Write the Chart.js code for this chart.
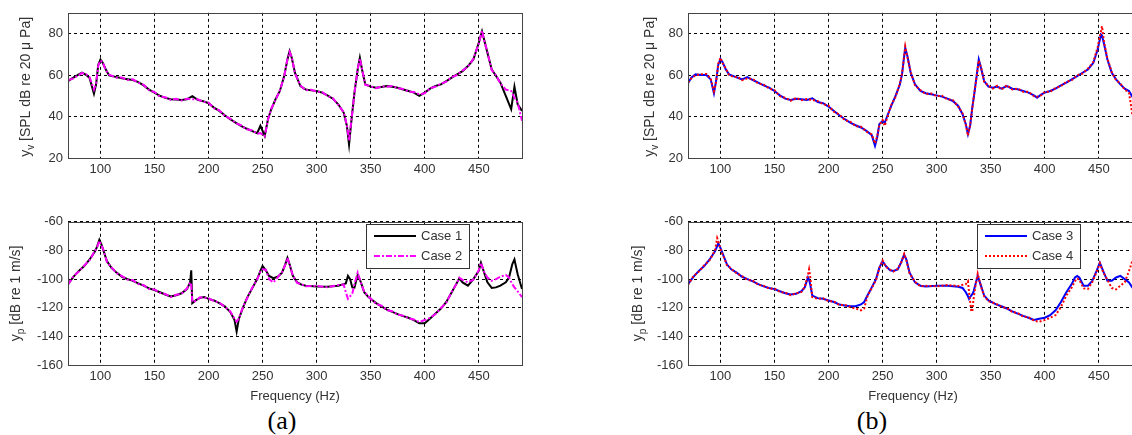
<!DOCTYPE html>
<html>
<head>
<meta charset="utf-8">
<script src="https://cdn.jsdelivr.net/npm/chart.js@4.4.1/dist/chart.umd.min.js"></script>
<style>
  html, body { margin: 0; padding: 0; background: #fff; overflow: hidden; }
  #page { position: relative; width: 1132px; height: 435px; overflow: hidden; }
  .panel { position: absolute; width: 530px; }
  .xlab { position: absolute; font: 13px 'Liberation Sans', Arial, sans-serif; color: #333; transform: translate(-50%, -50%); white-space: nowrap; }
  .cap { position: absolute; font: 26px 'Liberation Serif', 'Times New Roman', serif; color: #000; transform: translate(-50%, -50%); white-space: nowrap; }
</style>
</head>
<body>
<div id="page">
  <div class="panel" style="left:0;top:0;height:185px"><canvas id="aTop"></canvas></div>
  <div class="panel" style="left:0;top:209px;height:183px"><canvas id="aBot"></canvas></div>
  <div class="panel" style="left:620px;top:0;height:185px"><canvas id="bTop"></canvas></div>
  <div class="panel" style="left:620px;top:209px;height:183px"><canvas id="bBot"></canvas></div>
  <div class="xlab" style="left:295px;top:395px">Frequency (Hz)</div>
  <div class="xlab" style="left:913px;top:395px">Frequency (Hz)</div>
  <div class="cap" style="left:282px;top:421px">(a)</div>
  <div class="cap" style="left:872px;top:421px">(b)</div>
</div>
<script>
// ── data ─────────────────────────────────────────────────────────────────────
const xTicks    = [100, 150, 200, 250, 300, 350, 400, 450];
const yTicksTop = [20, 40, 60, 80];
const yTicksBot = [-160, -140, -120, -100, -80, -60];

// (a) top: y_v, Case 1 / Case 2
const aTopFreq = [
  70, 75, 80, 83, 87, 90, 94, 96, 98, 100,
  102, 105, 108, 115, 120, 125, 130, 135, 140, 145,
  150, 155, 160, 165, 170, 175, 180, 185, 190, 195,
  200, 205, 210, 215, 220, 225, 230, 235, 240, 245,
  248, 252, 255, 258, 262, 266, 270, 273, 275, 277,
  280, 285, 290, 295, 300, 305, 310, 315, 320, 325,
  328, 330, 332, 335, 338, 340, 342, 345, 350, 355,
  360, 365, 370, 375, 380, 385, 390, 395, 400, 405,
  410, 415, 420, 425, 430, 435, 440, 445, 450, 453,
  455, 458, 462, 466, 470, 475, 480, 483, 486, 490];
const case1Top = [
  57.1, 58.7, 60.3, 61.2, 60.0, 58.5, 51.0, 55.5, 65.0, 67.5,
  66.0, 62.7, 59.8, 59.0, 58.4, 58.0, 57.6, 56.6, 55.0, 53.0,
  51.5, 50.0, 49.0, 48.3, 48.2, 48.0, 48.3, 49.8, 48.0, 47.4,
  46.4, 44.3, 42.7, 40.6, 38.7, 37.1, 35.5, 34.2, 33.1, 32.0,
  35.5, 30.7, 38.7, 43.5, 48.3, 52.3, 59.5, 67.5, 71.5, 68.3,
  61.0, 54.7, 53.0, 52.6, 52.3, 51.5, 50.2, 48.6, 45.9, 41.9,
  35.5, 26.5, 37.1, 51.5, 62.7, 68.3, 62.7, 55.5, 54.4, 53.9,
  54.2, 54.7, 54.4, 53.9, 53.0, 52.3, 51.5, 50.0, 51.5, 53.4,
  54.7, 55.5, 57.1, 58.7, 60.3, 61.9, 64.3, 67.5, 75.5, 81.1,
  77.0, 70.7, 62.7, 59.5, 56.3, 50.0, 43.5, 54.4, 45.9, 42.7];
const case2Top = [
  57.5, 58.4, 60.0, 61.0, 60.3, 58.9, 53.0, 56.0, 64.5, 67.0,
  66.3, 62.3, 60.2, 58.7, 58.8, 57.6, 57.9, 56.3, 55.3, 52.7,
  51.8, 49.6, 49.3, 48.0, 48.5, 47.7, 48.6, 48.3, 48.3, 47.1,
  46.7, 44.0, 43.0, 40.3, 39.0, 36.8, 35.8, 33.9, 33.4, 31.7,
  32.0, 30.5, 38.4, 43.8, 48.0, 52.6, 59.2, 67.8, 71.2, 68.6,
  60.7, 55.0, 52.7, 52.9, 52.0, 51.8, 49.9, 48.9, 45.6, 42.2,
  35.8, 28.3, 37.4, 51.2, 63.0, 68.0, 63.0, 55.2, 54.7, 53.6,
  54.5, 54.4, 54.7, 53.6, 53.3, 52.0, 51.8, 50.7, 51.2, 53.7,
  54.4, 55.8, 56.8, 59.0, 60.0, 62.2, 64.0, 67.8, 75.2, 81.4,
  76.7, 71.0, 62.4, 59.8, 56.0, 53.0, 52.3, 49.0, 46.7, 38.0];

// (a) bottom: y_p, Case 1 / Case 2
const aBotFreq = [
  70, 75, 80, 85, 90, 95, 97, 99, 101, 103,
  106, 110, 115, 120, 125, 130, 135, 140, 145, 150,
  155, 160, 165, 170, 175, 180, 183, 184, 185, 188,
  192, 196, 200, 205, 210, 215, 220, 224, 226, 228,
  232, 236, 240, 245, 248, 250, 253, 256, 260, 264,
  268, 271, 273, 275, 278, 282, 286, 290, 300, 310,
  320, 325, 327, 329, 331, 333, 335, 338, 341, 344,
  348, 355, 360, 365, 370, 375, 380, 385, 390, 395,
  400, 405, 410, 415, 420, 425, 430, 432, 435, 440,
  445, 450, 452, 455, 458, 462, 466, 470, 475, 478,
  481, 483, 486, 490];
const case1Bot = [
  -103.5, -98.4, -94.3, -90.9, -86.3, -80.6, -77.2, -72.6, -76.0, -80.6,
  -87.5, -92.0, -95.5, -98.4, -100.0, -101.2, -103.0, -104.6, -106.5, -107.6,
  -109.2, -110.8, -112.2, -111.3, -109.9, -107.0, -102.3, -93.9, -116.8, -114.9,
  -113.1, -112.6, -113.8, -114.9, -116.8, -119.0, -122.9, -128.5, -136.7, -128.0,
  -119.5, -112.6, -107.0, -100.0, -94.3, -90.9, -93.9, -97.8, -99.4, -98.4,
  -95.5, -89.7, -85.2, -89.7, -97.8, -102.3, -103.9, -104.6, -105.1, -105.3,
  -104.6, -103.5, -103.0, -97.8, -100.0, -105.8, -106.0, -97.0, -102.3, -109.2,
  -112.6, -116.8, -119.0, -121.3, -122.9, -124.5, -125.9, -127.0, -128.6, -130.9,
  -130.9, -127.5, -124.0, -120.6, -116.0, -109.2, -102.3, -99.4, -102.3, -104.6,
  -100.0, -94.3, -88.6, -95.5, -102.3, -106.2, -105.8, -104.6, -102.3, -98.9,
  -89.7, -86.3, -96.6, -106.9];
const case2Bot = [
  -104.0, -98.0, -94.8, -90.5, -86.8, -80.2, -77.6, -73.3, -76.5, -80.2,
  -88.0, -91.6, -95.9, -98.0, -100.4, -100.8, -103.4, -104.2, -106.9, -107.2,
  -109.6, -110.4, -112.6, -111.0, -110.3, -106.6, -102.3, -104.0, -116.0, -115.3,
  -112.7, -113.0, -113.4, -115.3, -116.4, -119.4, -122.5, -127.5, -129.8, -127.5,
  -119.1, -113.0, -106.6, -100.4, -94.7, -93.2, -93.5, -100.0, -102.3, -98.8,
  -95.1, -90.1, -85.2, -90.1, -97.4, -102.7, -103.5, -105.0, -104.7, -105.7,
  -104.2, -103.9, -109.2, -113.8, -112.0, -110.3, -103.5, -95.5, -102.7, -108.8,
  -112.2, -117.2, -118.6, -121.7, -122.5, -124.9, -125.5, -127.4, -128.2, -130.0,
  -128.6, -127.1, -124.4, -120.2, -116.4, -108.8, -102.7, -99.0, -100.5, -102.3,
  -100.4, -93.9, -88.6, -95.1, -98.9, -101.2, -100.0, -98.4, -97.1, -98.9,
  -103.5, -105.8, -108.5, -112.6];

// (b) top: y_v, Case 3 / Case 4
const bTopFreq = [
  70, 73, 77, 82, 87, 91, 94, 96, 98, 100,
  102, 105, 108, 112, 116, 120, 125, 130, 135, 140,
  145, 150, 155, 160, 165, 170, 175, 180, 185, 190,
  195, 200, 205, 210, 215, 220, 225, 230, 235, 240,
  243, 245, 247, 250, 252, 255, 258, 262, 266, 268,
  270, 271, 273, 276, 280, 285, 290, 295, 300, 305,
  310, 315, 320, 324, 327, 329, 331, 333, 335, 337,
  339, 341, 344, 348, 352, 356, 360, 365, 370, 375,
  380, 385, 390, 393, 397, 400, 405, 410, 415, 420,
  425, 430, 435, 440, 445, 449, 452, 453, 455, 458,
  462, 466, 470, 474, 478, 481, 483];
const case3Top = [
  56.0, 58.7, 60.3, 60.0, 60.0, 57.9, 51.2, 57.1, 65.0, 67.8,
  66.2, 62.7, 60.3, 59.5, 58.7, 57.9, 59.0, 57.6, 56.3, 55.0,
  53.9, 52.3, 50.2, 48.6, 48.0, 48.6, 48.3, 48.0, 48.8, 47.0,
  46.4, 44.8, 42.7, 40.6, 38.7, 37.1, 35.8, 34.7, 33.1, 31.0,
  25.9, 29.9, 36.3, 37.9, 37.0, 41.1, 45.1, 49.9, 55.5, 60.3,
  69.1, 73.1, 69.1, 61.1, 55.5, 52.3, 51.2, 50.7, 50.2, 49.6,
  48.6, 47.5, 45.1, 41.1, 36.3, 31.5, 35.5, 44.3, 51.5, 59.5,
  67.5, 63.5, 57.1, 54.4, 53.9, 54.4, 53.4, 54.7, 53.4, 53.1,
  52.3, 51.5, 50.2, 49.1, 50.7, 51.5, 52.3, 53.4, 55.0, 56.3,
  57.9, 59.5, 61.1, 62.7, 65.9, 72.3, 79.5, 79.0, 74.7, 67.5,
  61.1, 57.9, 55.5, 53.4, 52.3, 49.6, 48.5];
const case4Top = [
  56.4, 58.3, 59.9, 60.4, 60.5, 58.3, 52.3, 56.6, 65.5, 68.3,
  65.8, 63.1, 59.9, 59.1, 59.1, 57.5, 58.4, 58.0, 55.9, 55.4,
  53.5, 52.7, 49.8, 49.0, 47.6, 49.0, 47.9, 48.4, 48.0, 47.4,
  46.0, 45.2, 42.3, 41.0, 38.3, 37.5, 35.4, 35.1, 32.7, 31.4,
  27.0, 30.3, 35.8, 38.3, 35.5, 40.7, 45.5, 49.5, 55.9, 60.7,
  69.5, 73.8, 68.7, 61.5, 55.1, 52.7, 50.8, 51.1, 49.8, 50.0,
  48.2, 47.9, 44.7, 41.5, 35.9, 30.8, 35.9, 43.9, 51.9, 59.1,
  67.0, 63.9, 56.7, 54.8, 53.5, 54.8, 53.0, 55.1, 53.0, 53.5,
  51.9, 51.9, 49.8, 49.5, 50.3, 51.9, 51.9, 53.8, 54.6, 56.7,
  57.5, 59.9, 60.7, 63.1, 66.3, 73.5, 81.0, 83.5, 75.5, 68.0,
  61.5, 57.5, 55.9, 53.0, 51.5, 41.1, 38.5];

// (b) bottom: y_p, Case 3 / Case 4
const bBotFreq = [
  70, 75, 80, 85, 90, 95, 97, 98, 100, 103,
  106, 110, 115, 120, 125, 130, 135, 140, 145, 150,
  155, 160, 165, 170, 175, 178, 181, 182, 183, 185,
  190, 195, 200, 205, 210, 215, 220, 225, 230, 233,
  236, 240, 244, 247, 250, 253, 257, 260, 264, 267,
  270, 272, 275, 280, 285, 290, 300, 310, 320, 324,
  327, 329, 330, 332, 333, 334, 336, 338, 341, 344,
  348, 355, 360, 365, 370, 375, 380, 385, 390, 395,
  400, 405, 410, 415, 420, 425, 428, 430, 432, 436,
  440, 444, 448, 451, 454, 458, 462, 466, 470, 474,
  478, 481, 483];
const case3Bot = [
  -103.5, -98.4, -94.3, -90.9, -86.3, -80.6, -77.0, -74.9, -78.3, -84.0,
  -89.7, -93.2, -95.5, -98.4, -100.0, -101.6, -103.5, -105.1, -106.2, -107.0,
  -108.5, -109.9, -110.8, -110.3, -108.5, -105.8, -98.9, -100.5, -103.5, -111.5,
  -113.3, -113.8, -114.9, -116.0, -117.7, -118.4, -119.0, -119.0, -117.7, -116.0,
  -111.5, -105.8, -100.0, -92.0, -87.5, -90.9, -93.9, -94.3, -93.2, -88.6,
  -82.9, -86.3, -95.5, -102.3, -104.6, -105.1, -104.6, -104.6, -105.3, -106.2,
  -109.2, -112.0, -113.8, -111.5, -110.5, -109.2, -103.5, -97.8, -104.6, -111.5,
  -114.9, -117.7, -119.0, -120.6, -122.5, -124.1, -125.7, -127.0, -128.6, -127.7,
  -127.0, -125.2, -121.8, -116.0, -109.2, -103.5, -98.9, -97.8, -98.9, -104.6,
  -104.6, -101.2, -94.3, -88.6, -94.3, -101.2, -101.2, -98.9, -97.8, -100.0,
  -102.3, -105.8, -106.5];
const case4Bot = [
  -104.0, -98.0, -94.8, -90.4, -86.8, -80.0, -71.4, -73.5, -79.0, -84.5,
  -90.2, -92.8, -96.0, -98.0, -100.5, -101.2, -104.0, -104.7, -106.7, -106.6,
  -109.0, -109.5, -111.3, -109.9, -109.0, -105.4, -97.0, -93.2, -97.8, -112.6,
  -113.8, -113.4, -115.4, -115.6, -118.2, -118.0, -119.5, -120.6, -121.8, -120.5,
  -112.0, -106.3, -100.5, -92.5, -87.0, -91.4, -93.5, -94.8, -92.8, -89.0,
  -82.5, -86.8, -96.0, -101.9, -105.0, -104.7, -105.0, -104.2, -104.8, -104.0,
  -103.5, -101.5, -109.2, -121.8, -122.8, -114.9, -104.5, -96.2, -105.0, -112.0,
  -115.4, -117.3, -119.5, -120.2, -123.0, -123.7, -126.2, -126.6, -129.0, -129.8,
  -128.6, -127.0, -125.2, -119.5, -111.5, -105.8, -101.5, -99.5, -100.5, -106.5,
  -106.9, -102.0, -95.0, -89.0, -95.0, -100.5, -106.2, -107.2, -104.6, -102.3,
  -94.3, -87.5, -86.0];

// ── plugins ──────────────────────────────────────────────────────────────────
const FONT = "'Liberation Sans', Arial, Helvetica, sans-serif";
Chart.defaults.font.family = FONT;
Chart.defaults.font.size = 13;
Chart.defaults.color = '#333';

const frame = {
  id: 'frame',
  afterDraw(chart) {
    const { ctx, chartArea: a } = chart;
    ctx.save();
    ctx.strokeStyle = '#444';
    ctx.lineWidth = 1;
    ctx.strokeRect(Math.round(a.left) + 0.5, Math.round(a.top) + 0.5,
                   Math.round(a.right - a.left), Math.round(a.bottom - a.top));
    ctx.restore();
  }
};

const boxLegend = {
  id: 'boxLegend',
  afterDraw(chart, args, o) {
    if (!o.box) return;
    const ctx = chart.ctx;
    const [x, y, w, h] = o.box;
    ctx.save();
    ctx.fillStyle = '#fff';
    ctx.fillRect(x, y, w, h);
    ctx.strokeStyle = '#333';
    ctx.lineWidth = 1;
    ctx.strokeRect(x + 0.5, y + 0.5, w, h);
    chart.data.datasets.forEach((ds, i) => {
      const ly = y + o.rows[i];
      ctx.strokeStyle = ds.borderColor;
      ctx.lineWidth = ds.borderWidth;
      ctx.setLineDash(ds.borderDash || []);
      ctx.beginPath();
      ctx.moveTo(x + o.line[0], ly);
      ctx.lineTo(x + o.line[1], ly);
      ctx.stroke();
      ctx.setLineDash([]);
      ctx.fillStyle = '#333';
      ctx.font = '13px ' + FONT;
      ctx.textBaseline = 'middle';
      ctx.fillText(ds.label, x + o.text, ly + 0.5);
    });
    ctx.restore();
  }
};

// rotated y label with a subscript part
const yTitle = {
  id: 'yTitle',
  afterDraw(chart, args, o) {
    if (!o.parts) return;
    const { ctx, chartArea: a } = chart;
    const fontOf = p => (p.sub ? Math.round(o.size * 0.72) : o.size) + 'px ' + FONT;
    ctx.save();
    ctx.translate(o.x, (a.top + a.bottom) / 2 + (o.dy || 0));
    ctx.rotate(-Math.PI / 2);
    ctx.fillStyle = '#333';
    ctx.textBaseline = 'alphabetic';
    let w = 0;
    o.parts.forEach(p => { ctx.font = fontOf(p); w += ctx.measureText(p.t).width; });
    let x = -w / 2;
    o.parts.forEach(p => {
      ctx.font = fontOf(p);
      ctx.fillText(p.t, x, p.sub ? o.size * 0.3 : 0);
      x += ctx.measureText(p.t).width;
    });
    ctx.restore();
  }
};

// ── panels ───────────────────────────────────────────────────────────────────
const pts = (fs, vs) => fs.map((f, i) => ({ x: f, y: vs[i] }));
const setTicks = list => s => { s.ticks = list.map(v => ({ value: v })); };

function makePanel(id, freq, s1, s2, cfg) {
  new Chart(document.getElementById(id), {
    type: 'line',
    data: {
      datasets: [
        { label: cfg.names[0], data: pts(freq, s1), borderColor: cfg.colors[0],
          borderWidth: 2, borderDash: cfg.dash[0], order: 1 },
        { label: cfg.names[1], data: pts(freq, s2), borderColor: cfg.colors[1],
          borderWidth: 2, borderDash: cfg.dash[1], order: 0 },
      ],
    },
    options: {
      responsive: true,
      maintainAspectRatio: false,
      animation: false,
      events: [],
      layout: { padding: { top: cfg.padTop, right: 8, left: 0, bottom: 0 } },
      elements: { point: { radius: 0 }, line: { tension: 0, fill: false } },
      plugins: {
        legend: { display: false },
        tooltip: { enabled: false },
        boxLegend: cfg.legend || {},
        yTitle: cfg.title,
      },
      scales: {
        x: {
          type: 'linear', min: 70, max: 490,
          afterBuildTicks: setTicks(xTicks),
          afterFit: s => { s.height = 27; },
          grid: { color: '#000', lineWidth: 1, drawTicks: false },
          border: { display: false, dash: [3, 3] },
          ticks: { padding: 4, color: '#333', font: { size: 13 } },
        },
        y: {
          type: 'linear', min: cfg.yMin, max: cfg.yMax,
          afterBuildTicks: setTicks(cfg.yTicks),
          afterFit: s => { s.width = 68; },
          grid: { color: '#000', lineWidth: 1, drawTicks: false },
          border: { display: false, dash: [3, 3] },
          ticks: { padding: 5, color: '#333', font: { size: 13 } },
        },
      },
    },
    plugins: [frame, boxLegend, yTitle],
  });
}

const titleV = [{ t: 'y' }, { t: 'v', sub: true }, { t: ' [SPL dB re 20 \u03bc Pa]' }];
const titleP = [{ t: 'y' }, { t: 'p', sub: true }, { t: ' [dB re 1 m/s]' }];
const caseA = { names: ['Case 1', 'Case 2'], colors: ['#000000', '#ff00ff'], dash: [[], [6, 2, 2, 2]] };
const caseB = { names: ['Case 3', 'Case 4'], colors: ['#0000ff', '#ff0000'], dash: [[], [2, 2]] };
const legendAt = x => ({ box: [x, 15, 103, 44], rows: [12, 32], line: [8, 50], text: 55 });

makePanel('aTop', aTopFreq, case1Top, case2Top, { ...caseA, padTop: 11, yMin: 20, yMax: 90, yTicks: yTicksTop,
  title: { parts: titleV, x: 29.5, dy: 1.5, size: 14 } });
makePanel('aBot', aBotFreq, case1Bot, case2Bot, { ...caseA, padTop: 10, yMin: -160, yMax: -60, yTicks: yTicksBot,
  title: { parts: titleP, x: 20, dy: 0, size: 14 }, legend: legendAt(366) });
makePanel('bTop', bTopFreq, case3Top, case4Top, { ...caseB, padTop: 11, yMin: 20, yMax: 90, yTicks: yTicksTop,
  title: { parts: titleV, x: 33.5, dy: 1.5, size: 14 } });
makePanel('bBot', bBotFreq, case3Bot, case4Bot, { ...caseB, padTop: 10, yMin: -160, yMax: -60, yTicks: yTicksBot,
  title: { parts: titleP, x: 21.5, dy: 0, size: 14 }, legend: legendAt(357) });
</script>
</body>
</html>
